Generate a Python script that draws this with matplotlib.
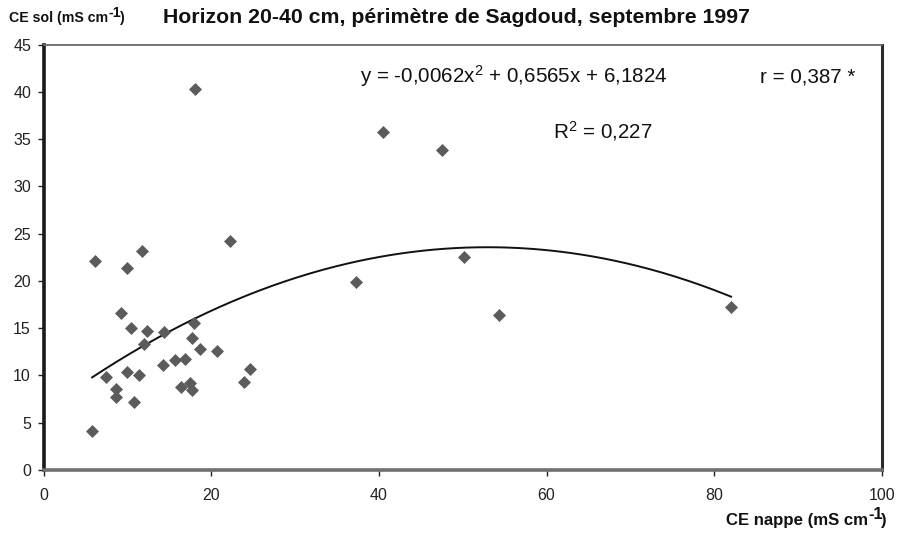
import numpy as np
import matplotlib
matplotlib.use("Agg")
import matplotlib.pyplot as plt

# Data
ce_nappe = [5.8, 6.2, 7.5, 8.7, 8.7, 9.3, 9.9, 10.0, 10.4, 10.8, 11.4, 11.7, 12.0,
            12.4, 14.3, 14.4, 15.7, 16.4, 16.9, 17.5, 17.7, 17.7, 17.9, 18.7, 20.7,
            22.2, 23.9, 24.6, 18.1, 40.5, 47.5, 37.3, 50.1, 54.3, 82.0]
ce_sol = [4.1, 22.1, 9.8, 8.6, 7.7, 16.6, 10.3, 21.4, 15.0, 7.2, 10.0, 23.2, 13.3,
          14.7, 11.1, 14.6, 11.6, 8.8, 11.7, 9.2, 13.9, 8.5, 15.5, 12.8, 12.6,
          24.2, 9.3, 10.7, 40.3, 35.8, 33.9, 19.9, 22.5, 16.4, 17.2]
trend_coefs = [-0.0062, 0.6565, 6.1824]
x_ticks = [0, 20, 40, 60, 80, 100]
y_ticks = [0, 5, 10, 15, 20, 25, 30, 35, 40, 45]

plt.rcParams['font.family'] = ["Liberation Sans", "DejaVu Sans"]
plt.rcParams['mathtext.fontset'] = 'custom'
plt.rcParams['mathtext.rm'] = 'Liberation Sans'
plt.rcParams['mathtext.it'] = 'Liberation Sans'
plt.rcParams['mathtext.bf'] = 'Liberation Sans:bold'

fig = plt.figure(figsize=(8.99, 5.35), dpi=100)
W, H = 899, 535
ax = fig.add_axes([43.5 / W, 1 - 469.8 / H, (882 - 43.5) / W, (469.8 - 44.7) / H])

ax.plot(ce_nappe, ce_sol, linestyle='none', marker='D', markersize=6.2,
        color='#5b5b5b', markeredgewidth=0.5, markeredgecolor='#5b5b5b', zorder=3)

xs = np.linspace(min(ce_nappe), max(ce_nappe), 300)
ax.plot(xs, np.polyval(trend_coefs, xs), color='#111111', linewidth=1.4, zorder=2)

ax.set_xlim(0, 100)
ax.set_ylim(0, 45)
ax.set_xticks(x_ticks)
ax.set_yticks(y_ticks)
ax.tick_params(axis='both', direction='out', length=4, width=1, colors='#222222',
               labelsize=11.5, pad=5)
ax.tick_params(axis='x', pad=9)

ax.spines['left'].set_color('#1a1a1a')
ax.spines['left'].set_linewidth(2.6)
ax.spines['bottom'].set_color('#707070')
ax.spines['bottom'].set_linewidth(2.6)
ax.spines['top'].set_color('#6a6a6a')
ax.spines['top'].set_linewidth(1.3)
ax.spines['right'].set_color('#2a2a2a')
ax.spines['right'].set_linewidth(2.2)

fig.canvas.draw()
renderer = fig.canvas.get_renderer()


def unit_label(x_px, y_px, base, size, sup_size, rise, align='left'):
    """Draw base + raised bold '-1' + ')' starting at pixel x (left) or ending at x (right)."""
    parts = [(base, size, 0, 0.5), ("-1", sup_size, rise, -1.5), (")", size, 0, 0)]
    widths = []
    for txt, sz, _, kern in parts:
        t = fig.text(0, 0, txt, fontsize=sz, fontweight='bold')
        widths.append(t.get_window_extent(renderer).width + kern)
        t.remove()
    total = sum(widths)
    x0 = x_px if align == 'left' else x_px - total
    cur = x0
    for (txt, sz, r, _), w in zip(parts, widths):
        fig.text(cur / W, (H - y_px + r) / H, txt, fontsize=sz, fontweight='bold',
                 va='baseline', ha='left', color='#111111')
        cur += w


unit_label(9, 22, "CE sol (mS cm", 10.2, 10.4, 5)
fig.text(163 / W, 1 - 23 / H, "Horizon 20-40 cm, périmètre de Sagdoud, septembre 1997",
         fontsize=15.3, fontweight='bold', va='baseline', ha='left', color='#111111')
unit_label(887, 525, "CE nappe (mS cm", 12.1, 12.1, 6, align='right')

fig.text(360 / W, 1 - 82.5 / H, r"y = -0,0062x$^{2}$ + 0,6565x + 6,1824", fontsize=14.9,
         va='baseline', ha='left', color='#111111')
fig.text(760 / W, 1 - 82.5 / H, "r = 0,387 *", fontsize=14.9, va='baseline', ha='left',
         color='#111111')
fig.text(553 / W, 1 - 138.5 / H, r"R$^{2}$ = 0,227", fontsize=14.9, va='baseline', ha='left',
         color='#111111')

fig.savefig("out.png", dpi=100)
